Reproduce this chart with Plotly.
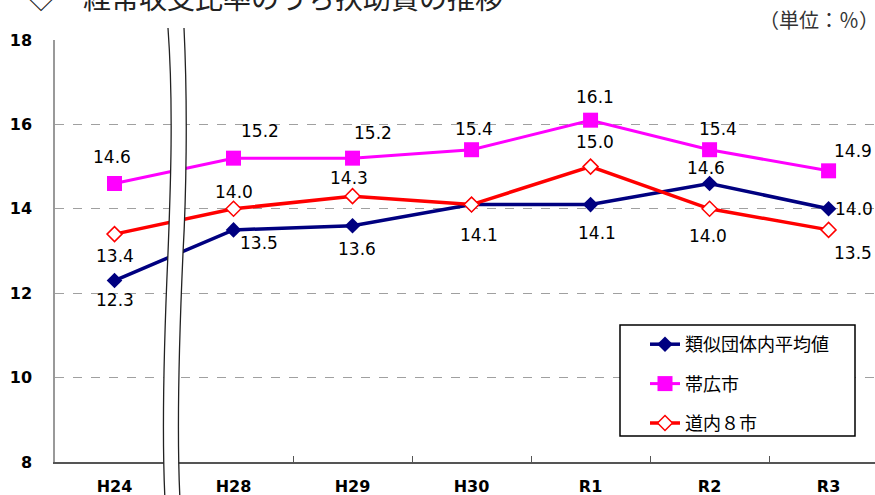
import plotly.graph_objects as go

categories = ["H24", "H28", "H29", "H30", "R1", "R2", "R3"]
ruiji = [12.3, 13.5, 13.6, 14.1, 14.1, 14.6, 14.0]
obihiro = [14.6, 15.2, 15.2, 15.4, 16.1, 15.4, 14.9]
dounai = [13.4, 14.0, 14.3, 14.1, 15.0, 14.0, 13.5]
names = ["類似団体内平均値", "帯広市", "道内８市"]
y_ticks = [8, 10, 12, 14, 16, 18]

# label offsets in pixels (dx, dy with dy downward)
ruiji_off = [(0, 19), (25, 13), (4, 23), (7, 30), (6, 28), (-4, -15), (25, 0)]
obihiro_off = [(-3, -26), (26, -27), (20, -25), (2, -21), (4, -23), (8, -21), (24, -20)]
dounai_off = [(0, 22), (0, -17), (-4, -18), None, (4, -25), (-2, 27), (24, 23)]

W, H = 875, 495
ML, MR, MT, MB = 55, 0, 40, 33
PW, PH = W - ML - MR, H - MT - MB
Y0PIX = H - MB

def P(px, py):
    return f"{(px - ML) / PW:.5f},{(Y0PIX - py) / PH:.5f}"

xs = list(range(len(categories)))
fig = go.Figure()
styles = [
    (ruiji, names[0], "#000080", 3.5, dict(symbol="diamond", size=12, color="#000080")),
    (obihiro, names[1], "#FF00FF", 3, dict(symbol="square", size=15, color="#FF00FF")),
    (dounai, names[2], "#FF0000", 3.5, dict(symbol="diamond", size=11.5, color="white",
                                           line=dict(color="#FF0000", width=1.5))),
]
for i, (vals, nm, col, lw, mk) in enumerate(styles):
    fig.add_trace(go.Scatter(x=xs, y=vals, name=nm, mode="lines+markers",
                             line=dict(color=col, width=lw), marker=mk,
                             legendgroup=f"g{i}"))

lab_font = dict(family="DejaVu Sans", size=17, color="black")
for vals, offs in [(ruiji, ruiji_off), (obihiro, obihiro_off), (dounai, dounai_off)]:
    for i, v in enumerate(vals):
        if offs[i] is None:
            continue
        dx, dy = offs[i]
        fig.add_annotation(x=i, y=v, xref="x", yref="y", text=f"{v:.1f}", showarrow=False,
                           xshift=dx, yshift=-dy, font=lab_font)

# title (partly cut off at the top) and unit
fig.add_annotation(xref="paper", yref="paper", x=(25 - ML) / PW, y=(Y0PIX + 3) / PH,
                   xanchor="left", yanchor="middle", showarrow=False,
                   text="◇　経常収支比率のうち扶助費の推移",
                   font=dict(family="Noto Sans CJK JP", size=28, color="#222222"))
fig.add_annotation(xref="paper", yref="paper", x=1, y=(Y0PIX - 19) / PH,
                   xanchor="right", yanchor="middle", showarrow=False, xshift=6,
                   text="（単位：％）",
                   font=dict(family="Noto Sans CJK JP", size=20, color="#333333"))

shapes = []
# legend box
shapes.append(dict(type="rect", xref="paper", yref="paper",
                   x0=(620 - ML) / PW, x1=(855 - ML) / PW,
                   y0=(Y0PIX - 436) / PH, y1=(Y0PIX - 325) / PH,
                   line=dict(color="black", width=1.5), fillcolor="white", layer="above"))
# axis break
fill_path = ("M " + P(168, 28) + " C " + P(174, 110) + " " + P(170, 200) + " " + P(168, 253) +
             " C " + P(165, 320) + " " + P(161, 420) + " " + P(165, 500) +
             " L " + P(180, 500) + " C " + P(176, 420) + " " + P(180, 320) + " " + P(183, 253) +
             " C " + P(186, 200) + " " + P(188, 110) + " " + P(184, 28) + " Z")
shapes.append(dict(type="path", xref="paper", yref="paper", path=fill_path,
                   fillcolor="white", line=dict(width=0), layer="above"))
left_path = ("M " + P(168, 28) + " C " + P(174, 110) + " " + P(170, 200) + " " + P(168, 253) +
             " C " + P(165, 320) + " " + P(161, 420) + " " + P(165, 500))
right_path = ("M " + P(184, 28) + " C " + P(188, 110) + " " + P(186, 200) + " " + P(183, 253) +
              " C " + P(180, 320) + " " + P(176, 420) + " " + P(180, 500))
for pth in (left_path, right_path):
    shapes.append(dict(type="path", xref="paper", yref="paper", path=pth,
                       line=dict(color="#222222", width=1.3), layer="above"))

fig.update_layout(
    width=W, height=H,
    margin=dict(l=ML, r=MR, t=MT, b=MB, autoexpand=False),
    plot_bgcolor="white", paper_bgcolor="white",
    shapes=shapes,
    showlegend=True,
    legend=dict(x=(645 - ML) / PW, y=(Y0PIX - 326) / PH, xanchor="left", yanchor="top",
                bgcolor="rgba(0,0,0,0)", borderwidth=0, tracegroupgap=13,
                font=dict(family="Noto Sans CJK JP", size=18, color="black")),
    xaxis=dict(range=[-0.5, 6.39], tickmode="array", tickvals=xs, ticktext=categories,
               showgrid=False, zeroline=False, showline=True, linecolor="#555555", linewidth=2,
               ticks="", ticklabelstandoff=9,
               tickfont=dict(family="DejaVu Sans", size=16, color="black", weight="bold"),
               minor=dict(tickmode="array", tickvals=[k + 0.5 for k in xs[:-1]],
                          ticks="inside", ticklen=6, tickcolor="#555555", tickwidth=1.3,
                          showgrid=False)),
    yaxis=dict(range=[8, 18], tickmode="array", tickvals=y_ticks,
               showgrid=True, gridcolor="#a0a0a0", griddash="dash", gridwidth=1,
               zeroline=False, showline=True, linecolor="#999999", linewidth=1.5,
               ticks="", ticklabelstandoff=18,
               tickfont=dict(family="DejaVu Sans", size=16, color="black", weight="bold")),
)

fig.write_html("out.html", config={"displayModeBar": False},
               post_script="document.body.style.margin='0px';document.body.style.overflow='hidden';")
